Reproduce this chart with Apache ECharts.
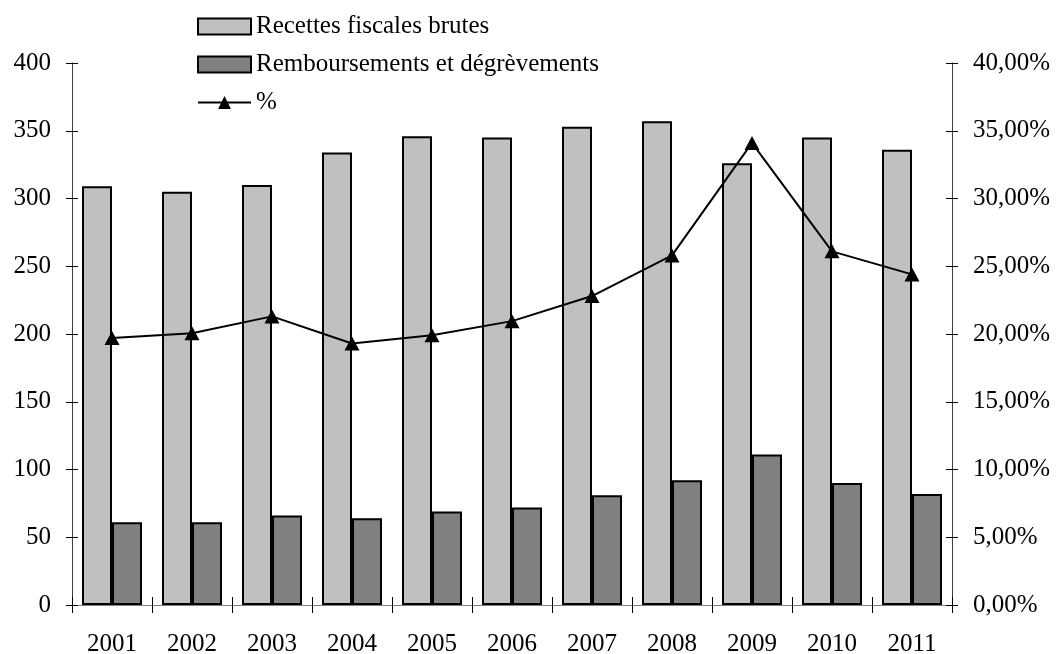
<!DOCTYPE html>
<html>
<head>
<meta charset="utf-8">
<script src="https://cdn.jsdelivr.net/npm/echarts@6/dist/echarts.min.js"></script>
<style>
  html, body { margin: 0; padding: 0; background: #fff; }
  #chart { width: 1058px; height: 654px; }
</style>
</head>
<body>
<div id="chart"></div>
<script>
// Années
const years = ['2001', '2002', '2003', '2004', '2005', '2006', '2007', '2008', '2009', '2010', '2011'];
// Recettes fiscales brutes (Md€)
const recettes = [309, 305, 310, 334, 346, 345, 353, 357, 326, 345, 336];
// Remboursements et dégrèvements (Md€)
const remboursements = [61, 61, 66, 64, 69, 72, 81, 92, 111, 90, 82];
// Part des remboursements dans les recettes brutes (%)
const part = [19.7, 20.05, 21.3, 19.3, 19.9, 20.95, 22.8, 25.8, 34.1, 26.1, 24.4];

const FONT = "'Liberation Serif', 'Times New Roman', serif";
const textStyle = { fontFamily: FONT, fontSize: 25, color: '#000' };

const chart = echarts.init(document.getElementById('chart'), null, { renderer: 'canvas' });

// Excel-style "cross" tick marks: one axis draws the outer half, a twin draws the inner half
function yTwin(position, max, interval, inside, withLabels, formatter) {
  return {
    type: 'value', position: position, min: 0, max: max, interval: interval,
    axisLine: { show: withLabels, lineStyle: { color: '#404040', width: 1 } },
    axisTick: { show: true, inside: inside, length: 6, lineStyle: { color: '#000', width: 1 } },
    axisLabel: withLabels ? Object.assign({ margin: 21, formatter: formatter }, textStyle) : { show: false },
    splitLine: { show: false }
  };
}

const option = {
  animation: false,
  backgroundColor: '#fff',
  textStyle: { fontFamily: FONT },
  grid: { left: 72, right: 106, top: 63, bottom: 49, containLabel: false, outerBoundsMode: 'none' },
  legend: {
    orient: 'vertical',
    left: 192, top: 9,
    itemWidth: 53, itemHeight: 16, itemGap: 13,
    textStyle: Object.assign({ padding: [0, 0, 0, 0] }, textStyle),
    data: [
      { name: 'Recettes fiscales brutes', icon: 'rect', itemStyle: { color: '#C0C0C0', borderColor: '#000', borderWidth: 2 } },
      { name: 'Remboursements et dégrèvements', icon: 'rect', itemStyle: { color: '#808080', borderColor: '#000', borderWidth: 2 } },
      { name: '%' }
    ]
  },
  xAxis: [
    {
      type: 'category', data: years, position: 'bottom', boundaryGap: true,
      axisLine: { show: true, onZero: false, lineStyle: { color: '#808080', width: 1 } },
      axisTick: { show: true, inside: false, length: 8, lineStyle: { color: '#000' } },
      axisLabel: Object.assign({ margin: 27 }, textStyle)
    },
    {
      type: 'category', data: years, position: 'bottom', boundaryGap: true,
      axisLine: { show: false, onZero: false },
      axisTick: { show: true, inside: true, length: 8, lineStyle: { color: '#000' } },
      axisLabel: { show: false }
    }
  ],
  yAxis: [
    yTwin('left', 400, 50, false, true, null),
    yTwin('right', 40, 5, false, true, v => v.toFixed(2).replace('.', ',') + '%'),
    yTwin('left', 400, 50, true, false, null),
    yTwin('right', 40, 5, true, false, null)
  ],
  series: [
    {
      name: 'Recettes fiscales brutes', type: 'bar', data: recettes,
      xAxisIndex: 0, yAxisIndex: 0, barWidth: 30, barGap: '0%',
      itemStyle: { color: '#C0C0C0', borderColor: '#000', borderWidth: 2 }
    },
    {
      name: 'Remboursements et dégrèvements', type: 'bar', data: remboursements,
      xAxisIndex: 0, yAxisIndex: 0, barWidth: 30, barGap: '0%',
      itemStyle: { color: '#808080', borderColor: '#000', borderWidth: 2 }
    },
    {
      name: '%', type: 'line', data: part,
      xAxisIndex: 0, yAxisIndex: 1, z: 5,
      symbol: 'triangle', symbolSize: [15, 14],
      lineStyle: { color: '#000', width: 2 },
      itemStyle: { color: '#000' }
    }
  ]
};

chart.setOption(option);
</script>
</body>
</html>
